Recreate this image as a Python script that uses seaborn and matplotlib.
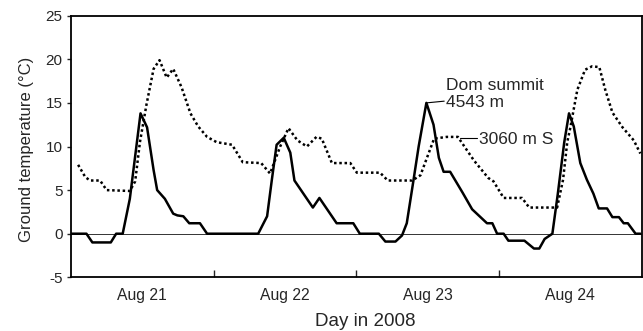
import matplotlib
matplotlib.use("Agg")
import matplotlib.pyplot as plt
import seaborn as sns
import pandas as pd
from matplotlib.ticker import FixedLocator

# ---- data (hours since Aug 21 00:00, ground temperature in °C) ----
dom_hours = [0.1, 2.6, 3.6, 6.7, 7.6, 8.7, 9.9, 11.7, 12.8, 13.9, 14.5, 15.8, 17.2, 17.9,
             18.9, 19.9, 21.7, 22.9, 31.5, 33.0, 33.8, 34.6, 35.8, 36.9, 37.6, 40.7, 41.8,
             44.7, 47.5, 48.6, 51.8, 52.9, 54.6, 55.7, 56.5, 57.6, 58.5, 59.8, 61.0, 61.9,
             62.7, 63.8, 65.9, 67.5, 70.0, 70.9, 71.7, 72.8, 73.6, 76.3, 77.9, 78.8, 79.7,
             81.0, 81.9, 83.0, 83.8, 84.6, 85.7, 86.8, 87.9, 88.8, 90.2, 91.1, 92.2, 93.0,
             93.7, 95.0, 95.8]
dom_temp = [0.0, 0.0, -1.0, -1.0, 0.0, 0.0, 4.0, 13.8, 12.2, 7.3, 5.0, 4.0, 2.3, 2.1,
            2.0, 1.2, 1.2, 0.0, 0.0, 2.0, 6.2, 10.2, 11.0, 9.3, 6.1, 3.0, 4.1,
            1.2, 1.2, 0.0, 0.0, -0.9, -0.9, -0.2, 1.2, 6.0, 10.0, 15.0, 12.5, 8.7,
            7.1, 7.1, 4.7, 2.8, 1.2, 1.2, 0.0, 0.0, -0.8, -0.8, -1.7, -1.7, -0.6,
            0.0, 4.5, 10.5, 13.8, 12.3, 8.1, 6.2, 4.6, 2.9, 2.9, 1.9, 1.9, 1.2,
            1.2, 0.0, 0.0]

s3060_hours = [1.2, 2.4, 3.2, 4.9, 6.0, 9.9, 10.8, 11.6, 12.7, 13.9, 14.9, 16.1, 17.2, 18.6,
               20.1, 21.4, 22.9, 24.5, 27.1, 28.9, 32.0, 33.5, 35.2, 36.6, 38.1, 39.7, 41.3,
               42.2, 43.9, 47.0, 48.1, 52.0, 53.3, 57.4, 58.8, 61.1, 63.2, 65.1, 67.8, 70.2,
               71.1, 72.8, 75.9, 77.1, 81.8, 82.8, 83.5, 84.0, 85.2, 86.5, 87.7, 88.9, 89.9,
               91.1, 92.8, 94.7, 95.8]
s3060_temp = [7.9, 6.5, 6.1, 6.1, 5.0, 4.9, 6.0, 10.5, 14.8, 18.9, 19.9, 17.9, 18.9, 16.8,
              13.8, 12.3, 11.1, 10.5, 10.2, 8.2, 8.1, 6.9, 10.0, 12.1, 10.7, 10.0, 11.1,
              10.9, 8.1, 8.1, 7.0, 7.0, 6.1, 6.1, 6.7, 10.9, 11.1, 11.1, 8.4, 6.4,
              6.0, 4.1, 4.1, 3.0, 3.0, 6.2, 10.5, 12.1, 16.5, 18.8, 19.2, 19.1, 16.5,
              13.9, 12.2, 10.7, 9.2]

day_labels = ["Aug 21", "Aug 22", "Aug 23", "Aug 24"]
y_ticks = [-5, 0, 5, 10, 15, 20, 25]

# ---- figure ----
sns.set_style("ticks")
plt.rcParams["font.family"] = ["Liberation Sans", "DejaVu Sans"]
plt.rcParams["axes.unicode_minus"] = False

fig = plt.figure(figsize=(6.43, 3.31), dpi=100)
ax = fig.add_axes([0.1104, 0.1622, 0.8873, 0.7904])

dom_df = pd.DataFrame({"day": [h / 24 for h in dom_hours], "temp": dom_temp})
s_df = pd.DataFrame({"day": [h / 24 for h in s3060_hours], "temp": s3060_temp})

ax.axhline(0, color="#333333", lw=0.7, zorder=1)
sns.lineplot(data=s_df, x="day", y="temp", ax=ax, color="black", lw=1.8,
             linestyle=(0, (1.0, 1.1)), estimator=None, sort=False)
sns.lineplot(data=dom_df, x="day", y="temp", ax=ax, color="black", lw=1.8,
             estimator=None, sort=False)

ax.set_xlim(0, 4)
ax.set_ylim(-5, 25)
ax.set_yticks(y_ticks)
ax.set_yticklabels([str(v) for v in y_ticks])
ax.xaxis.set_major_locator(FixedLocator([0.5, 1.5, 2.5, 3.5]))
ax.set_xticklabels(day_labels)
ax.xaxis.set_minor_locator(FixedLocator([1, 2, 3]))
ax.tick_params(axis="x", which="major", length=0, labelsize=11.3, pad=8)
ax.tick_params(axis="x", which="minor", direction="in", length=5, width=1.0)
ax.tick_params(axis="y", which="major", direction="out", length=3, width=1.0,
               labelsize=11, pad=3)

for sp in ax.spines.values():
    sp.set_visible(True)
    sp.set_linewidth(1.3)
    sp.set_color("black")

ax.set_xlabel("Day in 2008", fontsize=13.5)
ax.xaxis.set_label_coords(0.515, -0.135)
ax.set_ylabel("Ground temperature (°C)", fontsize=12)
ax.yaxis.set_label_coords(-0.064, 0.49)

# annotations
ax.plot([59.8 / 24, 62.8 / 24], [15.0, 15.2], color="black", lw=0.8)
ax.text(63.1 / 24, 15.0, "4543 m", fontsize=12.5, va="center", ha="left")
ax.text(63.1 / 24, 17.0, "Dom summit", fontsize=12.5, va="center", ha="left")
ax.plot([65.4 / 24, 68.3 / 24], [11.0, 11.0], color="black", lw=0.8)
ax.text(68.6 / 24, 10.75, "3060 m S", fontsize=12.5, va="center", ha="left")

fig.savefig("out.png", dpi=100)
